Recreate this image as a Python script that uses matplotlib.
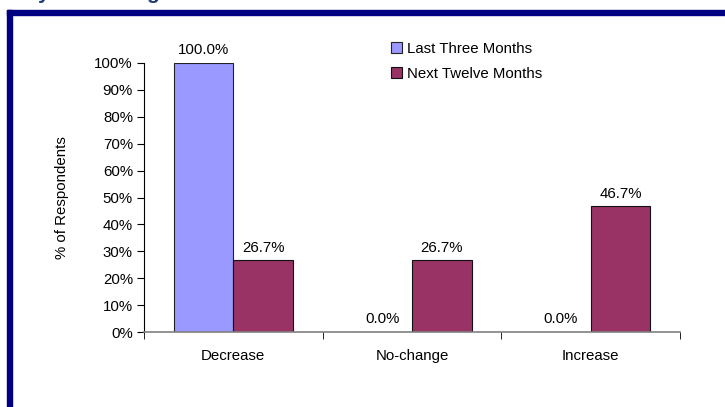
import numpy as np
import matplotlib
matplotlib.use('Agg')
import matplotlib.pyplot as plt
from matplotlib.patches import Rectangle

# Survey responses, share of respondents per direction
categories = ["Decrease", "No-change", "Increase"]
last_three_months = [100.0, 0.0, 0.0]
next_twelve_months = [26.7, 26.7, 46.7]
series_names = ["Last Three Months", "Next Twelve Months"]
y_ticks = [0, 10, 20, 30, 40, 50, 60, 70, 80, 90, 100]

plt.rcParams['font.family'] = ['Liberation Sans', 'DejaVu Sans']
FS = 10.8

fig = plt.figure(figsize=(7.25, 4.07), dpi=100)
W, H = 725, 407

# navy frame around the slide content
navy = '#000080'
fig.patches.append(Rectangle((7 / W, 0), 5 / W, 1 - 10 / H, transform=fig.transFigure,
                             color=navy, zorder=0))
fig.patches.append(Rectangle((7 / W, 1 - 15 / H), 1 - 7 / W, 5 / H, transform=fig.transFigure,
                             color=navy, zorder=0))
# bottom of the heading text sits just above the frame
fig.text(38 / W, 1 + 1 / H, "y", color='#1F3A78', fontsize=15, fontweight='bold',
         ha='left', va='baseline')
fig.text(146 / W, 1 + 1 / H, "g", color='#1F3A78', fontsize=15, fontweight='bold',
         ha='left', va='baseline')

ax = fig.add_axes([144 / W, 75 / H, 536 / W, 269 / H])

x = np.arange(len(categories)) + 0.5
width = 1 / 3
b1 = ax.bar(x - width / 2, last_three_months, width, color='#9999FF', edgecolor='#222222',
            linewidth=0.8, label=series_names[0])
b2 = ax.bar(x + width / 2, next_twelve_months, width, color='#993366', edgecolor='#111111',
            linewidth=0.8, label=series_names[1])

for bars, vals in ((b1, last_three_months), (b2, next_twelve_months)):
    for rect, v in zip(bars, vals):
        ax.annotate(f"{v:.1f}%", (rect.get_x() + rect.get_width() / 2, v),
                    xytext=(0, 4), textcoords='offset points', ha='center', va='bottom',
                    fontsize=FS, color='black')

ax.set_xlim(0, len(categories))
ax.set_ylim(0, 100)
ax.set_yticks(y_ticks)
ax.set_yticklabels([f"{t}%" for t in y_ticks], fontsize=FS)
ax.set_xticks(x)
ax.set_xticklabels(categories, fontsize=FS)
ax.set_xticks(np.arange(len(categories) + 1), minor=True)
ax.tick_params(axis='x', which='major', length=0, pad=12)
ax.tick_params(axis='x', which='minor', length=5, direction='out', color='black')
ax.tick_params(axis='y', length=5, direction='out', pad=3)

for side in ('top', 'right'):
    ax.spines[side].set_visible(False)
ax.spines['bottom'].set_color('#808080')
ax.spines['bottom'].set_linewidth(1.2)
ax.spines['left'].set_linewidth(0.8)

ax.set_ylabel("% of Respondents", fontsize=FS)
ax.yaxis.set_label_coords(-0.14, 0.5)

ax.legend(loc='upper left', bbox_to_anchor=(233 / 536, 1.13), frameon=False,
          fontsize=FS, handlelength=0.75, handleheight=0.75, handletextpad=0.35,
          labelspacing=0.75)

fig.savefig("out.png", dpi=100)
